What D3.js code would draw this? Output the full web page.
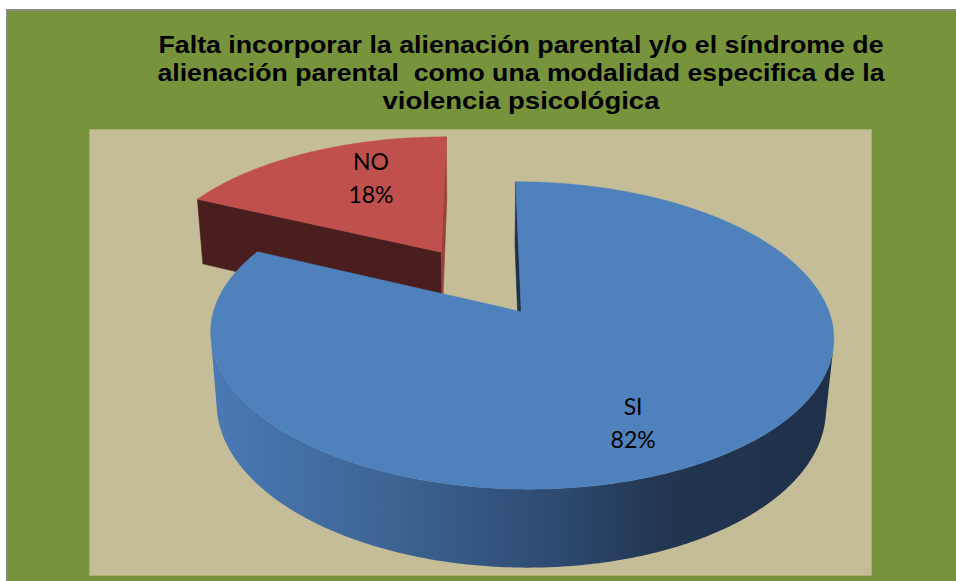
<!DOCTYPE html>
<html><head><meta charset="utf-8">
<script src="https://cdn.jsdelivr.net/npm/d3@7"></script>
<style>html,body{margin:0;padding:0;background:#fff;}svg{display:block;}</style>
</head><body>
<svg id="chart" width="956" height="581"></svg>
<script>
// ---- data ----
const categories = ["SI", "NO"];
const values = [82, 18];
const valueLabels = ["82%", "18%"];
const titleLines = [
  "Falta incorporar la alienación parental y/o el síndrome de",
  "alienación parental  como una modalidad especifica de la",
  "violencia psicológica"
];

// ---- styles / layout ----
const W = 956, H = 581;
const green = "#77933C", beige = "#C4BD97";
const topColors = {SI: "#4F81BD", NO: "#C0504D"};
const startFaceColors = {SI: "#1f3049", NO: "#4a1e1e"};
const endFaceColors = {SI: "#1f3049", NO: "#9a413f"};
const titleWidths = [725, 727, 277];

const svg = d3.select("#chart");
// frame
svg.append("rect").attr("x", 6).attr("y", 9).attr("width", W - 6).attr("height", H - 9).attr("fill", "#8a8a8a");
svg.append("rect").attr("x", 7.5).attr("y", 11).attr("width", W - 7.5).attr("height", H - 11).attr("fill", green);
// plot area
svg.append("rect").attr("x", 89.5).attr("y", 129.5).attr("width", 782).attr("height", 446)
  .attr("fill", beige).attr("stroke", "#a9b06e").attr("stroke-width", 1);

// title
const title = svg.append("text").attr("text-anchor", "middle")
  .attr("font-family", "'Liberation Sans', Arial, sans-serif").attr("font-weight", "bold")
  .attr("font-size", 24).attr("fill", "#000");
titleLines.forEach((t, i) => {
  title.append("tspan").attr("x", 521).attr("y", 53 + i * 28).attr("xml:space", "preserve")
    .attr("textLength", titleWidths[i]).attr("lengthAdjust", "spacingAndGlyphs").text(t);
});

// ---- 3D projection ----
const proj = {cx: 480, cy: 281, G: 298, phi: Math.asin(0.472), D: 5.88, thick: 0.268, explode: 0.25};
const s = Math.sin(proj.phi), c = Math.cos(proj.phi), f = proj.G * proj.D;
const rScale = d3.scaleLinear().domain([0, 1]).range([0, 1]); // unit pie radius
const cam = [0, s * proj.D, c * proj.D];
function P(X, h, Z) {
  const depth = proj.D - (h * s + Z * c);
  return [proj.cx + f * X / depth, proj.cy - f * (h * c - Z * s) / depth];
}
const pie = d3.pie().sort(null).startAngle(0).endAngle(2 * Math.PI);
const arcs = pie(values).map((d, i) => {
  const mid = (d.startAngle + d.endAngle) / 2;
  return {...d, key: categories[i], label: valueLabels[i], mid,
    ox: proj.explode * Math.sin(mid), oz: -proj.explode * Math.cos(mid)};
});
const R = rScale(1);
const rim = (a, th, h) => P(a.ox + R * Math.sin(th), h, a.oz - R * Math.cos(th));
const apex = (a, h) => P(a.ox, h, a.oz);
const line = d3.line();
const dot = (u, v) => u[0] * v[0] + u[1] * v[1] + u[2] * v[2];

// wall gradient
const defs = svg.append("defs");
const grad = defs.append("linearGradient").attr("id", "wallSI").attr("gradientUnits", "userSpaceOnUse")
  .attr("x1", 210).attr("x2", 835).attr("y1", 0).attr("y2", 0);
[[0, "#4a79b5"], [0.3, "#3d6392"], [0.55, "#2e4b71"], [0.72, "#223651"], [1, "#1f3049"]]
  .forEach(([o, col]) => grad.append("stop").attr("offset", o).attr("stop-color", col));
const gradNO = defs.append("linearGradient").attr("id", "wallNO").attr("gradientUnits", "userSpaceOnUse")
  .attr("x1", 190).attr("x2", 450).attr("y1", 0).attr("y2", 0);
[[0, "#8e3b39"], [1, "#4a1e1e"]].forEach(([o, col]) => gradNO.append("stop").attr("offset", o).attr("stop-color", col));

const g = svg.append("g");
// farther slices first
const order = arcs.slice().sort((a, b) => a.oz - b.oz);
order.forEach(a => {
  const sg = g.append("g");
  const hB = -proj.thick;
  // radial faces
  const faces = [
    {th: a.startAngle, n: [-Math.cos(a.startAngle), 0, -Math.sin(a.startAngle)], col: startFaceColors[a.key]},
    {th: a.endAngle, n: [Math.cos(a.endAngle), 0, Math.sin(a.endAngle)], col: endFaceColors[a.key]}
  ];
  faces.forEach(fc => {
    const toCam = [cam[0] - a.ox, cam[1], cam[2] - a.oz];
    if (dot(fc.n, toCam) > 0) {
      sg.append("path").attr("d", line([apex(a, 0), rim(a, fc.th, 0), rim(a, fc.th, hB), apex(a, hB)]) + "Z")
        .attr("fill", fc.col).attr("stroke", fc.col).attr("stroke-width", 0.6);
    }
  });
  // outer wall
  const steps = Math.ceil((a.endAngle - a.startAngle) / (Math.PI / 360));
  const segs = []; let cur = null;
  for (let k = 0; k <= steps; k++) {
    const th = a.startAngle + (a.endAngle - a.startAngle) * k / steps;
    const X = a.ox + R * Math.sin(th), Z = a.oz - R * Math.cos(th);
    const n = [Math.sin(th), 0, -Math.cos(th)];
    const vis = dot(n, [cam[0] - X, cam[1], cam[2] - Z]) > 0;
    if (vis) { if (!cur) { cur = []; segs.push(cur); } cur.push(th); } else cur = null;
  }
  segs.forEach(sgm => {
    if (sgm.length < 2) return;
    const pts = sgm.map(th => rim(a, th, 0)).concat(sgm.slice().reverse().map(th => rim(a, th, hB)));
    sg.append("path").attr("d", line(pts) + "Z").attr("fill", `url(#wall${a.key})`);
  });
  // top face
  const topPts = [apex(a, 0)];
  for (let k = 0; k <= steps; k++) topPts.push(rim(a, a.startAngle + (a.endAngle - a.startAngle) * k / steps, 0));
  sg.append("path").attr("d", line(topPts) + "Z").attr("fill", topColors[a.key])
    .attr("stroke", topColors[a.key]).attr("stroke-width", 0.5);
});

// labels
const labelCfg = {SI: {r: 0.62, dx: -3, dy: 26}, NO: {r: 0.52, dx: 3, dy: -20}};
arcs.forEach(a => {
  const cfg = labelCfg[a.key];
  const p = P(a.ox + cfg.r * R * Math.sin(a.mid), 0, a.oz - cfg.r * R * Math.cos(a.mid));
  const t = svg.append("text").attr("text-anchor", "middle").attr("font-family", "Lato, 'Open Sans', sans-serif")
    .attr("font-size", 23).attr("fill", "#000");
  t.append("tspan").attr("x", p[0] + cfg.dx).attr("y", p[1] + cfg.dy - 8).text(a.key);
  t.append("tspan").attr("x", p[0] + cfg.dx).attr("y", p[1] + cfg.dy + 25).text(a.label);
});
</script>
</body></html>
